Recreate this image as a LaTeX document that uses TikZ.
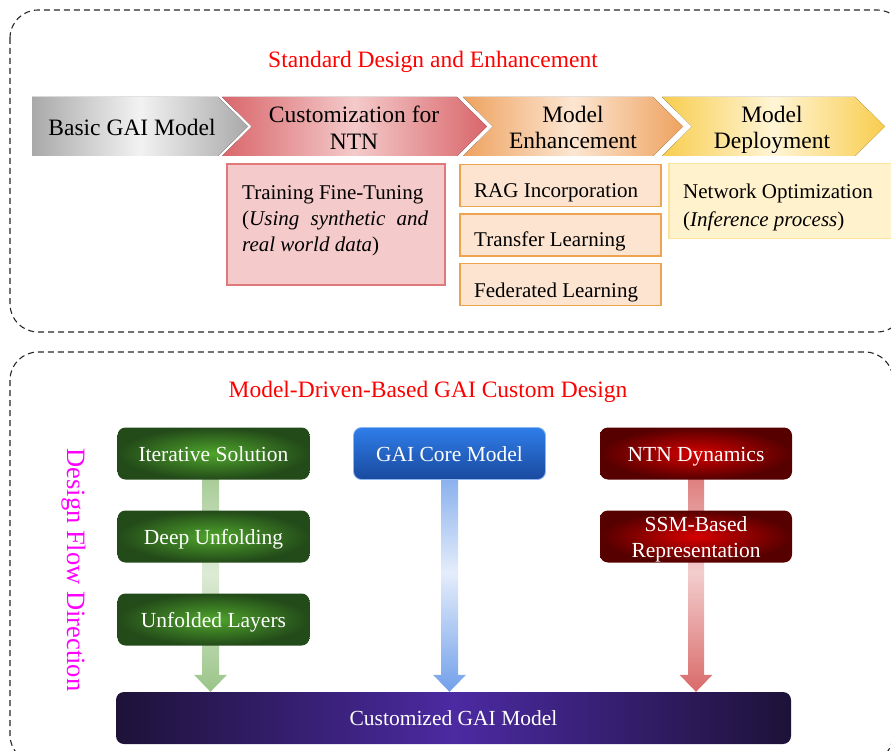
\documentclass[tikz,border=0pt]{standalone}
\usepackage{fontspec}
\setmainfont{Liberation Serif}
\usepackage{xcolor}
\usetikzlibrary{positioning,calc,backgrounds}

\definecolor{TitleRed}{HTML}{FF0000}
\definecolor{FlowMagenta}{HTML}{FF00FF}
\definecolor{ChevGray}{HTML}{A9A9A9}
\definecolor{ChevGrayLight}{HTML}{F2F2F2}
\definecolor{ChevPink}{HTML}{D9666B}
\definecolor{ChevPinkLight}{HTML}{F4CACA}
\definecolor{ChevOrange}{HTML}{EEA25F}
\definecolor{ChevOrangeLight}{HTML}{FCE6D2}
\definecolor{ChevYellow}{HTML}{F8CD4E}
\definecolor{ChevYellowLight}{HTML}{FFF5D6}
\definecolor{BoxPink}{HTML}{F4CACA}
\definecolor{BoxPinkLine}{HTML}{E07A7A}
\definecolor{BoxOrange}{HTML}{FCE4D0}
\definecolor{BoxOrangeLine}{HTML}{F0A34E}
\definecolor{BoxYellow}{HTML}{FFF2CC}
\definecolor{BoxYellowLine}{HTML}{FDE29A}
\definecolor{GreenIn}{HTML}{4FA52C}
\definecolor{GreenOut}{HTML}{234A19}
\definecolor{RedIn}{HTML}{D60000}
\definecolor{RedOut}{HTML}{560000}
\definecolor{BlueTop}{HTML}{2F7DEA}
\definecolor{BlueBot}{HTML}{1A4A9E}
\definecolor{PurpleEdge}{HTML}{1D1238}
\definecolor{PurpleMid}{HTML}{4C2AA2}
\definecolor{ArrowGreen}{HTML}{9AC488}
\definecolor{ArrowGreenLight}{HTML}{DDEBD5}
\definecolor{ArrowBlue}{HTML}{72A0EA}
\definecolor{ArrowBlueLight}{HTML}{E4EDFB}
\definecolor{ArrowRed}{HTML}{D96A6A}
\definecolor{ArrowRedLight}{HTML}{F3CDCD}

\newcommand{\stagefont}{\fontsize{23.5}{26.5}\selectfont}
\newcommand{\itemfont}{\fontsize{21}{26}\selectfont}
\newcommand{\flowfont}{\fontsize{21.5}{26}\selectfont}
\newcommand{\headfont}{\fontsize{23.5}{28}\selectfont}
\newcommand{\dirfont}{\fontsize{26.5}{30}\selectfont}

\begin{document}
\begin{tikzpicture}[x=1pt,y=-1pt,
    dashframe/.style={draw=black!85, dashed, dash pattern=on 6pt off 4pt, line width=1.1pt, rounded corners=28pt},
    headtext/.style={font=\headfont, text=TitleRed, anchor=base, inner sep=0pt},
    stagetext/.style={font=\stagefont, align=center, inner sep=0pt},
    itembox/.style={line width=1.5pt, inner sep=0pt},
    itemtext/.style={font=\itemfont, align=left, inner sep=0pt},
    flowbox/.style={minimum width=192pt, minimum height=52pt, rounded corners=8pt, inner sep=2pt,
      text=white, font=\flowfont, text height=18pt, text depth=3pt},
    greenbox/.style={shading=radial, inner color=GreenIn, outer color=GreenOut},
    redbox/.style={shading=radial, inner color=RedIn, outer color=RedOut},
    bluebox/.style={top color=BlueTop, bottom color=BlueBot, draw=BlueTop!55!white, line width=0.8pt}]
\useasboundingbox (0,0) rectangle (891,751);

% outer dashed frames
\draw[dashframe] (10,10) rectangle (905,332);
\draw[dashframe] (10,352) rectangle (893,763);

% upper part
\node[headtext] (stdtitle) at (433,67.3) {Standard Design and Enhancement};

\fill[left color=ChevGray, right color=ChevGray, middle color=ChevGrayLight]
  (32,97) -- (218,97) -- (248,126.5) -- (218,156) -- (32,156) -- cycle;
\fill[left color=ChevPink, right color=ChevPink, middle color=ChevPinkLight]
  (222,97) -- (457,97) -- (487,126.5) -- (457,156) -- (222,156) -- (252,126.5) -- cycle;
\fill[left color=ChevOrange, right color=ChevOrange, middle color=ChevOrangeLight]
  (463,97) -- (653,97) -- (683,126.5) -- (653,156) -- (463,156) -- (493,126.5) -- cycle;
\fill[left color=ChevYellow, right color=ChevYellow, middle color=ChevYellowLight]
  (662,97) -- (855,97) -- (885,126.5) -- (855,156) -- (662,156) -- (692,126.5) -- cycle;

\node[stagetext] (basic) at (132,127) {Basic GAI Model};
\node[stagetext] (custom) at (354,127.5) {Customization for\\NTN};
\node[stagetext] (enhance) at (573,127.5) {Model\\Enhancement};
\node[stagetext] (deploy) at (772,130) {Model\\Deployment};

\node[itembox, fill=BoxPink, draw=BoxPinkLine, minimum width=218pt, minimum height=121pt] (tuning) at (336,224.5) {};
\node[itembox, fill=BoxOrange, draw=BoxOrangeLine, minimum width=201pt, minimum height=42pt] (rag) at (560.5,185.5) {};
\node[itembox, fill=BoxOrange, draw=BoxOrangeLine, minimum width=201pt, minimum height=42pt] (transfer) at (560.5,235) {};
\node[itembox, fill=BoxOrange, draw=BoxOrangeLine, minimum width=201pt, minimum height=42pt] (federated) at (560.5,284.5) {};
\node[itembox, fill=BoxYellow, draw=BoxYellowLine, minimum width=226pt, minimum height=75pt] (netopt) at (782,201) {};

\node[itemtext, anchor=north west] (tuningtext) at (242,185.5)
  {Training Fine-Tuning\\\makebox[186pt][s]{(\textit{Using synthetic and}}\\\textit{real world data})};
\node[itemtext, anchor=base west] (ragtext) at (474,198) {RAG Incorporation};
\node[itemtext, anchor=base west] (transfertext) at (474,247) {Transfer Learning};
\node[itemtext, anchor=base west] (federatedtext) at (474,297) {Federated Learning};
\node[itemtext, anchor=north west] (netopttext) at (683,184)
  {Network Optimization\\[2pt](\textit{Inference process})};

% lower part
\node[headtext] (mdtitle) at (428,397.3) {Model-Driven-Based GAI Custom Design};
\node[font=\dirfont, text=FlowMagenta, rotate=-90, anchor=base, inner sep=0pt] (direction) at (67,570) {Design Flow Direction};

\node[flowbox, greenbox] (iter) at (213.5,453.5) {Iterative Solution};
\node[flowbox, greenbox] (unfold) at (213.5,536.5) {Deep Unfolding};
\node[flowbox, greenbox] (layers) at (213.5,619.5) {Unfolded Layers};
\node[flowbox, bluebox] (core) at (449.5,453.5) {GAI Core Model};
\node[flowbox, redbox] (dyn) at (696,453.5) {NTN Dynamics};
\node[flowbox, redbox, align=center, inner sep=0pt, text height={}, text depth={}] (ssm) at (696,536.5) {\rule{0pt}{21pt}SSM-Based\\Representation};
\node[minimum width=675pt, minimum height=52pt, rounded corners=8pt, text=white, font=\flowfont,
  text height=18pt, text depth=3pt,
  left color=PurpleEdge, right color=PurpleEdge, middle color=PurpleMid] (final) at (453.5,718) {Customized GAI Model};

\begin{pgfonlayer}{background}
  \path[top color=ArrowGreen, bottom color=ArrowGreen, middle color=ArrowGreenLight]
    let \p1=(iter.center), \p2=(final.north) in
    (\x1-11.5pt,\y1) -- (\x1+5.5pt,\y1) -- (\x1+5.5pt,\y2+17pt) -- (\x1+13.5pt,\y2+17pt) -- (\x1-3pt,\y2)
    -- (\x1-19.5pt,\y2+17pt) -- (\x1-11.5pt,\y2+17pt) -- cycle;
  \path[top color=ArrowBlue, bottom color=ArrowBlue, middle color=ArrowBlueLight]
    let \p1=(core.center), \p2=(final.north) in
    (\x1-8.5pt,\y1) -- (\x1+8.5pt,\y1) -- (\x1+8.5pt,\y2+17pt) -- (\x1+16.5pt,\y2+17pt) -- (\x1,\y2)
    -- (\x1-16.5pt,\y2+17pt) -- (\x1-8.5pt,\y2+17pt) -- cycle;
  \path[top color=ArrowRed, bottom color=ArrowRed, middle color=ArrowRedLight]
    let \p1=(dyn.center), \p2=(final.north) in
    (\x1-8pt,\y1) -- (\x1+8pt,\y1) -- (\x1+8pt,\y2+17pt) -- (\x1+16.5pt,\y2+17pt) -- (\x1,\y2)
    -- (\x1-16.5pt,\y2+17pt) -- (\x1-8pt,\y2+17pt) -- cycle;
\end{pgfonlayer}
\end{tikzpicture}
\end{document}
